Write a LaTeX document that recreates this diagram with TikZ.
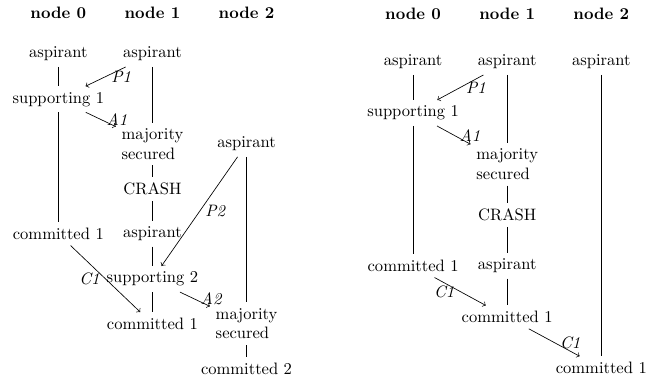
\documentclass[tikz,border=0pt]{standalone}
\usepackage{tikz}
\usetikzlibrary{arrows,positioning}

\begin{document}
\begin{tikzpicture}[
  head/.style={font=\bfseries},
  twoline/.style={align=left},
  msg/.style={->},
  lbl/.style={midway, font=\itshape}
]
\useasboundingbox (0,0) rectangle (14.07,-8.10);

% Left run: headers
\node[head] (Lh0) at (1.24,-0.28) {node 0};
\node[head] (Lh1) at (3.24,-0.28) {node 1};
\node[head] (Lh2) at (5.24,-0.28) {node 2};

% Left run: states
\node (Lasp0) at (1.24,-1.15) {aspirant};
\node (Lsup0) at (1.24,-2.11) {supporting 1};
\node (Lcom0) at (1.24,-4.97) {committed 1};

\node (Lasp1) at (3.24,-1.15) {aspirant};
\node[twoline] (Lmaj1) at (3.24,-3.06) {majority\\secured};
\node (Lcrash1) at (3.24,-4.02) {CRASH};
\node (Lasp1b) at (3.24,-4.97) {aspirant};
\node (Lsup1) at (3.24,-5.93) {supporting 2};
\node (Lcom1) at (3.24,-6.88) {committed 1};

\node (Lasp2) at (5.24,-3.06) {aspirant};
\node[twoline] (Lmaj2) at (5.24,-6.88) {majority\\secured};
\node (Lcom2) at (5.24,-7.84) {committed 2};

% Left run: lifelines
\draw (Lasp0) -- (Lsup0);
\draw (Lsup0) -- (Lcom0);
\draw (Lasp1) -- (Lmaj1);
\draw (Lmaj1) -- (Lcrash1);
\draw (Lcrash1) -- (Lasp1b);
\draw (Lasp1b) -- (Lsup1);
\draw (Lsup1) -- (Lcom1);
\draw (Lasp2) -- (Lmaj2);
\draw (Lmaj2) -- (Lcom2);

% Left run: messages
\draw[msg] (Lasp1) -- (Lsup0) node[lbl, right] {P1};
\draw[msg] (Lsup0) -- (Lmaj1) node[lbl, right] {A1};
\draw[msg] (Lasp2) -- (Lsup1) node[lbl, right] {P2};
\draw[msg] (Lcom0) -- (Lcom1) node[lbl, left] {C1};
\draw[msg] (Lsup1) -- (Lmaj2) node[lbl, right] {A2};

% Right run: headers
\node[head] (Rh0) at (8.78,-0.30) {node 0};
\node[head] (Rh1) at (10.78,-0.30) {node 1};
\node[head] (Rh2) at (12.78,-0.30) {node 2};

% Right run: states
\node (Rasp0) at (8.78,-1.32) {aspirant};
\node (Rsup0) at (8.78,-2.40) {supporting 1};
\node (Rcom0) at (8.78,-5.65) {committed 1};

\node (Rasp1) at (10.78,-1.32) {aspirant};
\node[twoline] (Rmaj1) at (10.78,-3.49) {majority\\secured};
\node (Rcrash1) at (10.78,-4.57) {CRASH};
\node (Rasp1b) at (10.78,-5.65) {aspirant};
\node (Rcom1) at (10.78,-6.74) {committed 1};

\node (Rasp2) at (12.78,-1.32) {aspirant};
\node (Rcom2) at (12.78,-7.82) {committed 1};

% Right run: lifelines
\draw (Rasp0) -- (Rsup0);
\draw (Rsup0) -- (Rcom0);
\draw (Rasp1) -- (Rmaj1);
\draw (Rmaj1) -- (Rcrash1);
\draw (Rcrash1) -- (Rasp1b);
\draw (Rasp1b) -- (Rcom1);
\draw (Rasp2) -- (Rcom2);

% Right run: messages
\draw[msg] (Rasp1) -- (Rsup0) node[lbl, right] {P1};
\draw[msg] (Rsup0) -- (Rmaj1) node[lbl, right] {A1};
\draw[msg] (Rcom0) -- (Rcom1) node[lbl, left] {C1};
\draw[msg] (Rcom1) -- (Rcom2) node[lbl, right] {C1};

\end{tikzpicture}
\end{document}
